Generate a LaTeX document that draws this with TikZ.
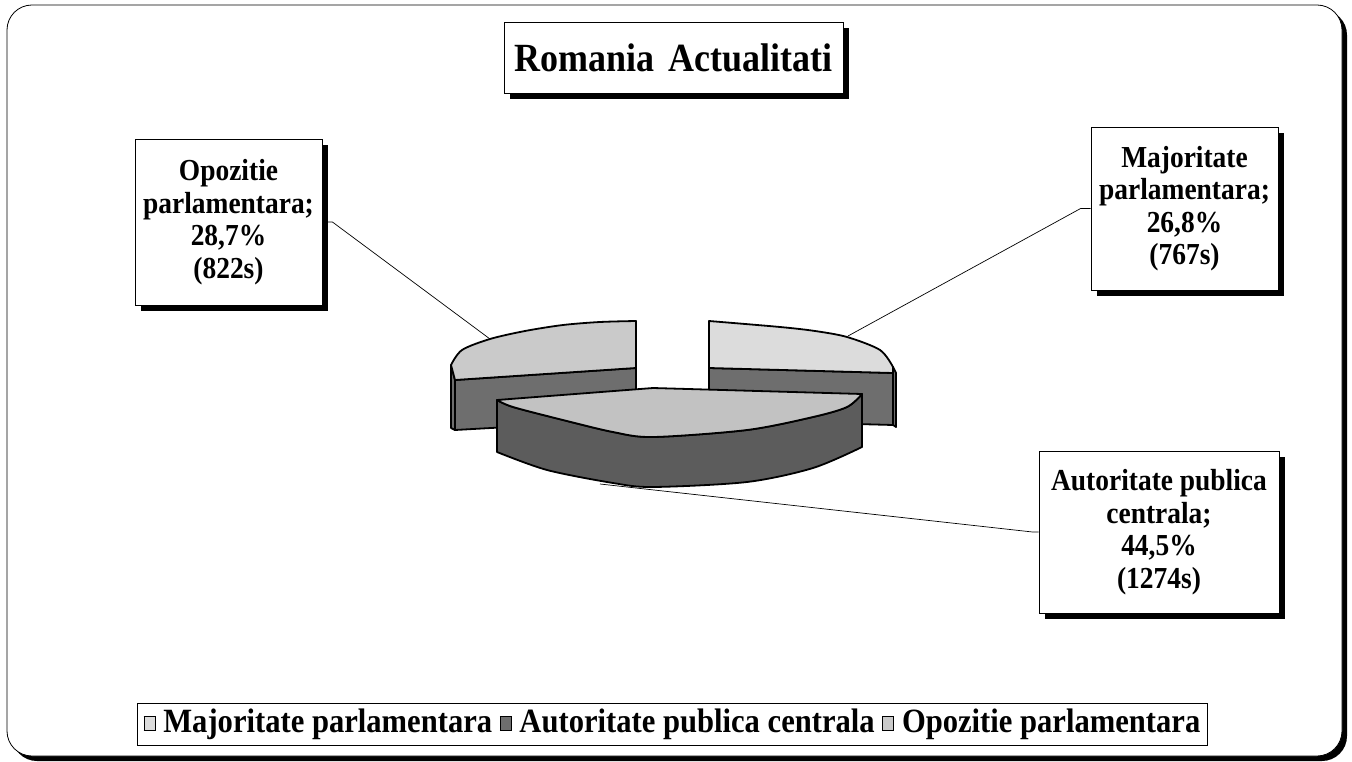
\documentclass[tikz,border=0pt]{standalone}
\usepackage{fontspec}
\setmainfont{Liberation Serif}[FakeStretch=0.9]
\usetikzlibrary{shadows}
\definecolor{majtop}{HTML}{DCDCDC}
\definecolor{opztop}{HTML}{CACACA}
\definecolor{auttop}{HTML}{C2C2C2}
\definecolor{sidedark}{HTML}{6E6E6E}
\definecolor{autside}{HTML}{5C5C5C}
\newcommand{\legsq}[1]{\raisebox{2pt}{\fboxsep=0pt\fboxrule=1pt\fcolorbox{black}{#1}{\rule{0pt}{13pt}\hspace{10pt}}}}
\begin{document}
\begin{tikzpicture}[x=1pt,y=-1pt,
  pieline/.style={draw=black,line width=1.8pt,line join=round},
  lbl/.style={draw=black,line width=0.8pt,fill=white,align=center,inner sep=0pt,
    font=\bfseries\fontsize{30.5}{32.5}\selectfont,
    general shadow={fill=black,shadow xshift=6pt,shadow yshift=-6pt}},
  leader/.style={draw=black,line width=0.7pt}]
\useasboundingbox (0,0) rectangle (1352,762);
% frame
\fill[black,rounded corners=25pt] (12,10) rectangle (1347,761);
\draw[fill=white,line width=0.8pt,rounded corners=25pt] (7,5) rectangle (1342,756);

% title
\node[lbl,font=\bfseries\fontsize{40}{46}\selectfont,minimum width=339pt,minimum height=71pt] (title) at (673.5,57.5) {Romania\hspace{0.35em}Actualitati};

% left slice (Opozitie)
\filldraw[pieline,fill=sidedark] (455,380) -- (636,368) -- (636,420) -- (455,430) -- cycle;
\filldraw[pieline,fill=sidedark] (451,365) -- (455,380) -- (455,430) -- (451,428) -- cycle;
\filldraw[pieline,fill=opztop] (636,368) -- (455,380) -- (451,365) -- plot[smooth] coordinates {(451,365) (462,350) (490,339) (525,331) (563,325) (600,322) (636,321)} -- cycle;

% right slice (Majoritate)
\filldraw[pieline,fill=sidedark] (709,368) -- (893,373) -- (893,425) -- (709,420) -- cycle;
\filldraw[pieline,fill=sidedark] (893,367) -- (896,373) -- (896,427) -- (893,425) -- cycle;
\filldraw[pieline,fill=majtop] (709,321) -- (709,368) -- (893,373) -- (893,367) -- plot[smooth] coordinates {(893,367) (880,350) (847,337) (815,331) (780,327) (709,321)} -- cycle;

% centre slice (Autoritate)
\filldraw[pieline,fill=autside] (497,400) -- (497,452) -- plot[smooth] coordinates {(497,452) (547,470) (613,483) (653,487) (747,482) (813,468) (862,447)} -- (862,394) -- plot[smooth] coordinates {(862,394) (847,407) (813,417) (747,430) (653,437) (613,432) (563,420) (513,407) (497,400)} -- cycle;
\filldraw[pieline,fill=auttop] (497,400) -- (653,388) -- (862,394) -- plot[smooth] coordinates {(862,394) (847,407) (813,417) (747,430) (653,437) (613,432) (563,420) (513,407) (497,400)} -- cycle;

% labels
\node[lbl,minimum width=187pt,minimum height=166pt] (opz) at (228.5,222) {Opozitie\\parlamentara;\\28,7\%\\(822s)};
\node[lbl,minimum width=187pt,minimum height=163pt] (maj) at (1184.5,208.5) {Majoritate\\parlamentara;\\26,8\%\\(767s)};
\node[lbl,minimum width=240pt,minimum height=162pt] (aut) at (1159,532) {Autoritate publica\\centrala;\\44,5\%\\(1274s)};

% leader lines
\coordinate (opzpt) at (490,339);
\coordinate (majpt) at (848,336);
\coordinate (autpt) at (600,484);
\draw[leader] (opz.east) -- ++(10,0) -- (opzpt);
\draw[leader] (maj.west) -- ++(-10,0) -- (majpt);
\draw[leader] (aut.west) -- ++(-6,0) -- (autpt);

% legend
\node[draw=black,line width=0.8pt,fill=white,minimum width=1070pt,minimum height=42pt,inner sep=0pt,
  font=\bfseries\fontsize{34}{38}\selectfont] (legend) at (672,724)
  {\legsq{majtop}~Majoritate parlamentara~\legsq{sidedark}~Autoritate publica centrala~\legsq{opztop}~Opozitie parlamentara};
\end{tikzpicture}
\end{document}
